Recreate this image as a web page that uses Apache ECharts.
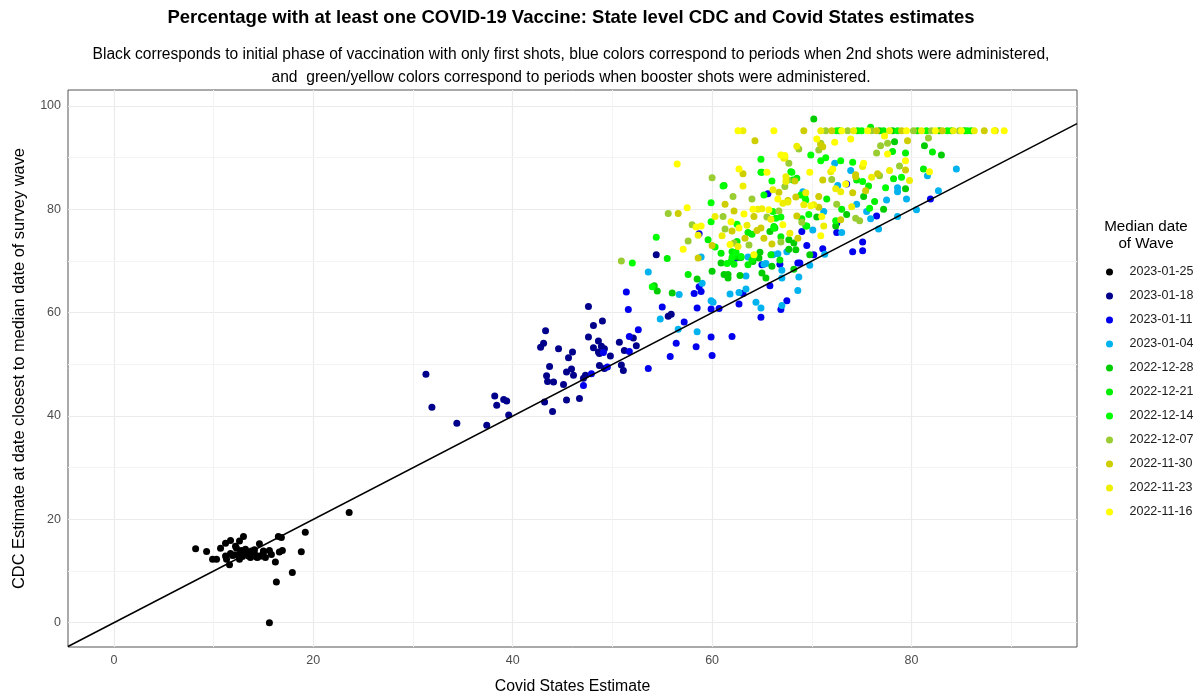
<!DOCTYPE html>
<html><head><meta charset="utf-8">
<script src="https://cdn.jsdelivr.net/npm/echarts@6/dist/echarts.min.js"></script>
<style>html,body{margin:0;padding:0;background:#fff}#c{width:1203px;height:700px}</style>
</head><body><div id="c"></div>
<script>
// ---------- data ----------
const waveLabels = ['2023-01-25','2023-01-18','2023-01-11','2023-01-04','2022-12-28','2022-12-21','2022-12-14','2022-12-07','2022-11-30','2022-11-23','2022-11-16'];
const waveColors = ['#000000','#00008B','#0000EE','#00B2EE','#00CD00','#00EE00','#00FF00','#9ACD32','#CDCD00','#EEEE00','#FFFF00'];

const w20230125 = [[8.2,14.3],[9.3,13.8],[9.9,12.3],[10.3,12.3],[10.7,14.4],[11.2,15.4],[11.7,15.9],[11.2,12.9],[11.3,12.3],[11.6,11.2],[11.7,13.4],[12.2,14.8],[12.3,14.4],[12.6,15.8],[13.0,16.7],[12.1,13.1],[12.6,12.3],[12.6,13.3],[12.8,14.0],[13.0,13.4],[13.2,14.2],[13.5,12.9],[13.8,13.9],[13.7,12.6],[14.1,13.4],[14.3,12.7],[14.6,12.9],[14.6,15.3],[14.8,12.9],[15.0,13.6],[15.2,12.6],[15.6,14.0],[15.8,13.2],[16.2,11.75],[16.3,7.9],[16.5,16.7],[16.8,16.5],[16.6,13.7],[16.9,14.0],[17.9,9.7],[18.8,13.75],[19.2,17.5],[23.6,21.35],[15.6,0.0],[13.3,13.6],[12.9,12.8],[14.1,14.1],[13.9,13.0],[15.0,13.9],[11.9,13.0],[14.4,12.6]];
const w20230118 = [[31.3,48.1],[31.9,41.7],[34.4,38.6],[37.4,38.2],[38.2,43.9],[38.4,42.1],[39.1,43.2],[39.4,42.9],[39.6,40.2],[43.3,56.5],[42.8,53.3],[43.1,54.1],[43.7,49.6],[44.6,53.0],[43.4,47.8],[43.5,46.7],[44.1,46.6],[43.2,42.7],[44.0,40.9],[45.6,51.3],[46.0,52.4],[45.4,48.5],[45.9,49.1],[46.1,47.9],[45.1,46.1],[45.4,43.1],[46.7,43.4],[47.6,61.2],[48.1,57.5],[47.6,55.3],[48.1,53.2],[48.6,54.5],[48.6,52.4],[48.7,49.8],[47.1,47.3],[47.3,47.9],[49.0,58.4],[48.7,52.1],[48.9,53.5],[49.2,53.0],[49.2,49.2],[49.8,51.6],[50.7,54.3],[50.9,49.9],[51.1,48.8],[51.2,52.7],[52.1,55.1],[52.4,53.6],[55.6,59.3],[55.9,59.7],[54.4,71.2]];
const w20230111 = [[47.1,45.9],[47.9,48.2],[49.1,52.3],[49.5,49.5],[51.7,55.4],[51.7,52.5],[52.6,56.7],[51.4,64.0],[51.6,60.6],[53.6,49.2],[55.0,61.1],[57.2,58.2],[56.4,54.1],[55.8,51.5],[58.2,63.7],[58.7,65.0],[58.9,64.1],[58.5,60.9],[58.4,53.4],[58.7,75.3],[59.9,60.7],[60.7,60.8],[59.9,55.3],[60.0,51.7],[62.0,55.4],[62.7,61.7],[63.1,63.7],[64.9,59.1],[65.8,65.2],[65.0,69.3],[66.8,69.4],[66.9,60.6],[67.5,62.3],[68.8,69.6],[68.6,69.6],[69.0,75.7],[70.2,71.2],[71.1,72.4],[72.5,75.5],[72.5,77.3],[74.1,71.8],[75.1,72.0],[75.1,73.7],[73.5,84.9],[76.5,78.7],[81.9,82.0],[65.6,83.0],[62.4,70.6],[69.5,73.0]];
const w20230104 = [[54.8,58.8],[56.7,63.5],[56.6,56.8],[58.5,56.3],[58.9,70.8],[59.0,65.7],[59.9,62.3],[60.1,62.0],[61.8,63.6],[62.7,63.9],[63.4,64.6],[63.4,67.1],[64.4,62.0],[64.9,60.9],[63.6,70.8],[65.2,69.4],[65.4,69.5],[66.1,71.2],[66.6,71.4],[67.0,68.2],[67.5,71.8],[67.0,61.4],[68.6,64.3],[68.7,66.9],[69.8,69.2],[70.1,76.0],[71.3,71.3],[73.0,75.5],[76.7,76.2],[71.2,79.6],[72.3,88.9],[72.6,84.6],[73.9,87.5],[74.5,81.0],[75.9,78.2],[77.5,81.8],[78.6,84.2],[78.6,83.4],[79.5,82.0],[78.6,78.6],[80.5,79.9],[81.6,86.5],[82.7,83.6],[84.5,87.8],[53.6,67.9],[67.0,66.7],[75.5,79.6],[69.1,83.4]];
const w20221228 = [[72.8,95.2],[76.8,95.2],[78.1,95.2],[82.8,95.2],[85.3,95.2],[70.2,97.5],[54.2,65.2],[54.5,64.2],[56.0,63.8],[60.9,69.6],[61.2,67.4],[61.6,66.7],[61.6,67.4],[62.8,67.2],[65.0,67.7],[65.4,66.7],[67.7,74.1],[68.2,73.5],[68.4,72.2],[62.7,70.7],[62.9,70.7],[64.1,69.9],[64.8,71.7],[64.7,70.6],[68.2,68.4],[69.8,71.2],[67.7,72.3],[66.3,76.4],[65.8,75.7],[72.4,76.8],[78.3,93.1],[81.3,92.3],[83.0,90.5],[79.4,84.0],[77.2,80.0],[73.5,79.0],[75.2,82.5],[70.5,78.5],[60.0,68.0],[58.5,66.5],[66.0,69.0]];
const w20221221 = [[74.6,95.2],[77.2,95.2],[80.6,95.2],[84.0,95.2],[86.0,95.2],[75.9,95.9],[59.6,74.1],[61.9,69.9],[62.2,69.4],[62.0,71.8],[62.2,70.9],[63.6,69.3],[64.2,71.1],[65.9,71.2],[66.2,76.7],[66.9,74.7],[67.9,87.3],[68.1,85.7],[68.5,86.0],[69.0,78.2],[69.4,76.8],[74.5,85.7],[75.7,84.5],[76.3,81.5],[78.2,85.9],[78.1,91.2],[79.4,90.9],[82.1,91.1],[81.2,87.8],[64.0,75.2],[63.6,75.5],[62.5,73.8],[60.9,71.5],[61.2,84.6],[65.0,87.2],[64.0,70.2],[66.8,70.2],[57.6,67.4],[55.5,70.5],[71.5,82.0],[73.0,80.0]];
const w20221214 = [[72.5,95.2],[75.0,95.2],[78.6,95.2],[81.5,95.2],[83.6,95.2],[85.6,95.2],[64.9,89.7],[64.9,87.2],[66.0,85.5],[68.0,87.2],[61.1,84.5],[59.9,81.3],[59.9,77.6],[54.4,74.6],[52.0,69.6],[60.3,72.7],[62.5,77.1],[65.2,82.8],[66.1,79.6],[66.4,78.3],[66.9,78.5],[66.2,76.4],[62.4,71.7],[62.9,70.9],[62.0,70.7],[61.5,69.5],[68.9,82.8],[69.3,82.4],[69.4,81.8],[70.9,89.4],[71.4,90.0],[69.9,90.5],[72.9,89.4],[74.1,89.1],[75.1,85.4],[77.4,84.2],[75.8,80.2],[72.4,77.8],[69.5,76.8],[69.7,79.0],[79.0,86.2],[54.0,65.0]];
const w20221207 = [[71.4,95.2],[73.6,95.2],[76.0,95.2],[80.2,95.2],[82.0,95.2],[84.8,95.2],[60.0,86.1],[62.1,82.5],[61.1,78.6],[61.3,76.2],[57.6,73.9],[50.9,70.0],[67.7,88.9],[67.3,84.4],[67.6,85.7],[62.2,73.5],[63.7,73.1],[65.5,78.5],[66.7,79.7],[66.9,73.7],[68.7,91.7],[76.9,92.3],[77.6,92.8],[76.5,90.9],[81.7,93.8],[78.8,88.4],[70.7,91.5],[70.9,92.8],[72.0,85.8],[74.8,77.8],[74.4,78.3],[76.8,86.5],[64.0,82.0],[69.0,77.5],[72.5,81.0],[55.6,79.2],[58.0,77.0]];
const w20221130 = [[69.2,95.2],[72.0,95.2],[76.5,95.2],[79.0,95.2],[83.1,95.2],[87.3,95.2],[88.4,95.2],[64.3,93.3],[63.1,86.9],[56.6,79.2],[58.6,70.6],[61.3,81.0],[62.2,79.7],[64.2,78.6],[64.9,76.4],[64.5,75.9],[66.7,83.3],[68.3,85.5],[63.3,74.4],[65.2,74.4],[68.5,78.7],[70.9,92.5],[71.1,92.1],[79.6,93.3],[79.4,87.6],[76.6,86.9],[74.1,83.2],[74.4,86.7],[74.4,86.3],[71.1,85.7],[67.6,81.7],[68.4,82.4],[70.7,82.5],[70.7,80.4],[72.9,78.0],[75.4,83.6],[68.6,74.4],[66.0,73.3],[62.0,75.8],[60.0,73.0]];
const w20221123 = [[63.1,95.2],[70.9,95.2],[74.2,95.2],[77.8,95.2],[81.0,95.2],[84.2,95.2],[86.3,95.2],[63.1,84.5],[66.1,83.8],[67.1,81.2],[67.6,81.4],[67.3,90.0],[67.4,86.3],[61.0,74.9],[62.6,72.8],[64.6,80.0],[65.0,80.1],[65.9,78.1],[67.8,75.4],[63.5,76.9],[75.1,88.3],[71.9,87.3],[72.4,84.0],[72.9,83.4],[77.8,87.5],[67.2,89.9],[69.2,80.9],[70.2,80.9],[69.4,83.2],[71.2,76.8],[67.4,85.4],[58.6,75.0],[60.3,78.6],[74.0,80.5],[76.0,86.2],[79.8,85.6],[68.5,92.2]];
const w20221116 = [[62.6,95.2],[66.2,95.2],[73.0,95.2],[75.6,95.2],[79.5,95.2],[82.4,95.2],[85.0,95.2],[88.3,95.2],[89.3,95.2],[56.5,88.8],[62.7,87.8],[65.5,87.2],[67.3,90.4],[57.5,80.3],[58.4,76.6],[61.9,77.6],[64.1,80.0],[66.6,82.0],[70.5,93.6],[72.3,93.0],[73.9,93.6],[77.3,94.2],[79.4,89.4],[81.8,87.3],[75.2,88.9],[72.1,87.8],[69.8,87.2],[66.9,90.5],[69.9,80.7],[71.0,78.6],[70.9,74.9],[73.4,84.9],[77.6,90.7],[63.2,79.1],[65.7,79.9],[62.7,76.4],[67.1,77.0],[61.8,73.2],[64.2,71.2],[58.9,76.8],[57.1,72.3]];

const waveData = [w20230125,w20230118,w20230111,w20230104,w20221228,w20221221,w20221214,w20221207,w20221130,w20221123,w20221116];

const xRange = [-4.6, 96.6];
const yRange = [-4.7, 103.1];
const xTicks = [0,20,40,60,80];
const yTicks = [0,20,40,60,80,100];
const xMinorGrid = [10,30,50,70,90];
const yMinorGrid = [10,30,50,70,90];
const identityLine = [[-4.6,-4.6],[96.6,96.6]];

// ---------- chart ----------
const chart = echarts.init(document.getElementById('c'), null, {renderer:'canvas'});
const FONT = 'Liberation Sans, Arial, sans-serif';

const gridLines = [];
xTicks.forEach(v => gridLines.push({xAxis:v, lineStyle:{color:'#EBEBEB', width:1.2, type:'solid'}}));
yTicks.forEach(v => gridLines.push({yAxis:v, lineStyle:{color:'#EBEBEB', width:1.2, type:'solid'}}));
xMinorGrid.forEach(v => gridLines.push({xAxis:v, lineStyle:{color:'#F3F3F3', width:1, type:'solid'}}));
yMinorGrid.forEach(v => gridLines.push({yAxis:v, lineStyle:{color:'#F3F3F3', width:1, type:'solid'}}));

const series = [{
  type:'scatter', name:'_grid', data:[], z:1, silent:true,
  markLine:{silent:true, z:1, symbol:['none','none'], label:{show:false}, animation:false, data:gridLines}
}];
waveLabels.forEach((lab,i) => {
  series.push({
    type:'scatter', name:lab, data:waveData[i], symbol:'circle', symbolSize:7,
    itemStyle:{color:waveColors[i], opacity:1}, z:10, animation:false
  });
});
series.push({
  type:'line', name:'_line', data:identityLine, symbol:'none', z:12, silent:true,
  lineStyle:{color:'#000', width:1.5}, animation:false
});

const option = {
  backgroundColor:'#fff',
  animation:false,
  textStyle:{fontFamily:FONT},
  grid:{left:68, right:126, top:90, bottom:52, show:true, borderColor:'#555', borderWidth:1, backgroundColor:'#fff'},
  xAxis:{
    type:'value', min:xRange[0], max:xRange[1],
    name:'Covid States Estimate', nameLocation:'middle', nameGap:32,
    nameTextStyle:{fontSize:15.8, color:'#000', fontFamily:FONT},
    axisLine:{show:false},
    axisTick:{show:true, length:4, customValues:xTicks, lineStyle:{color:'#333'}},
    axisLabel:{customValues:xTicks, color:'#4D4D4D', fontSize:12.5, margin:7, fontFamily:FONT,
      formatter:v => (Math.abs(v % 20) < 1e-6 ? String(v) : '')},
    splitLine:{show:false}
  },
  yAxis:{
    type:'value', min:yRange[0], max:yRange[1],
    name:'CDC Estimate at date closest to median date of survey wave', nameLocation:'middle', nameGap:41,
    nameTextStyle:{fontSize:16.4, color:'#000', fontFamily:FONT},
    axisLine:{show:false},
    axisTick:{show:true, length:4, customValues:yTicks, lineStyle:{color:'#333'}},
    axisLabel:{customValues:yTicks, color:'#4D4D4D', fontSize:12.5, margin:7, fontFamily:FONT,
      formatter:v => (Math.abs(v % 20) < 1e-6 ? String(v) : '')},
    splitLine:{show:false}
  },
  legend:{
    data:waveLabels, orient:'vertical', left:1101, top:260,
    icon:'circle', itemWidth:30, itemHeight:7, itemGap:10,
    textStyle:{fontSize:12.5, color:'#1A1A1A', lineHeight:14, fontFamily:FONT},
    selectedMode:false
  },
  graphic:[
    {type:'text', x:571, y:18, style:{text:'Percentage with at least one COVID-19 Vaccine: State level CDC and Covid States estimates', font:'bold 18.5px '+FONT, fill:'#000', textAlign:'center', textVerticalAlign:'middle'}},
    {type:'text', x:571, y:55, style:{text:'Black corresponds to initial phase of vaccination with only first shots, blue colors correspond to periods when 2nd shots were administered,', font:'15.6px '+FONT, fill:'#000', textAlign:'center', textVerticalAlign:'middle'}},
    {type:'text', x:571, y:78, style:{text:'and  green/yellow colors correspond to periods when booster shots were administered.', font:'15.6px '+FONT, fill:'#000', textAlign:'center', textVerticalAlign:'middle'}},
    {type:'text', x:1146, y:227, style:{text:'Median date', font:'15.2px '+FONT, fill:'#000', textAlign:'center', textVerticalAlign:'middle'}},
    {type:'text', x:1146, y:244, style:{text:'of Wave', font:'15.2px '+FONT, fill:'#000', textAlign:'center', textVerticalAlign:'middle'}}
  ],
  series:series
};
chart.setOption(option);
</script>
</body></html>
